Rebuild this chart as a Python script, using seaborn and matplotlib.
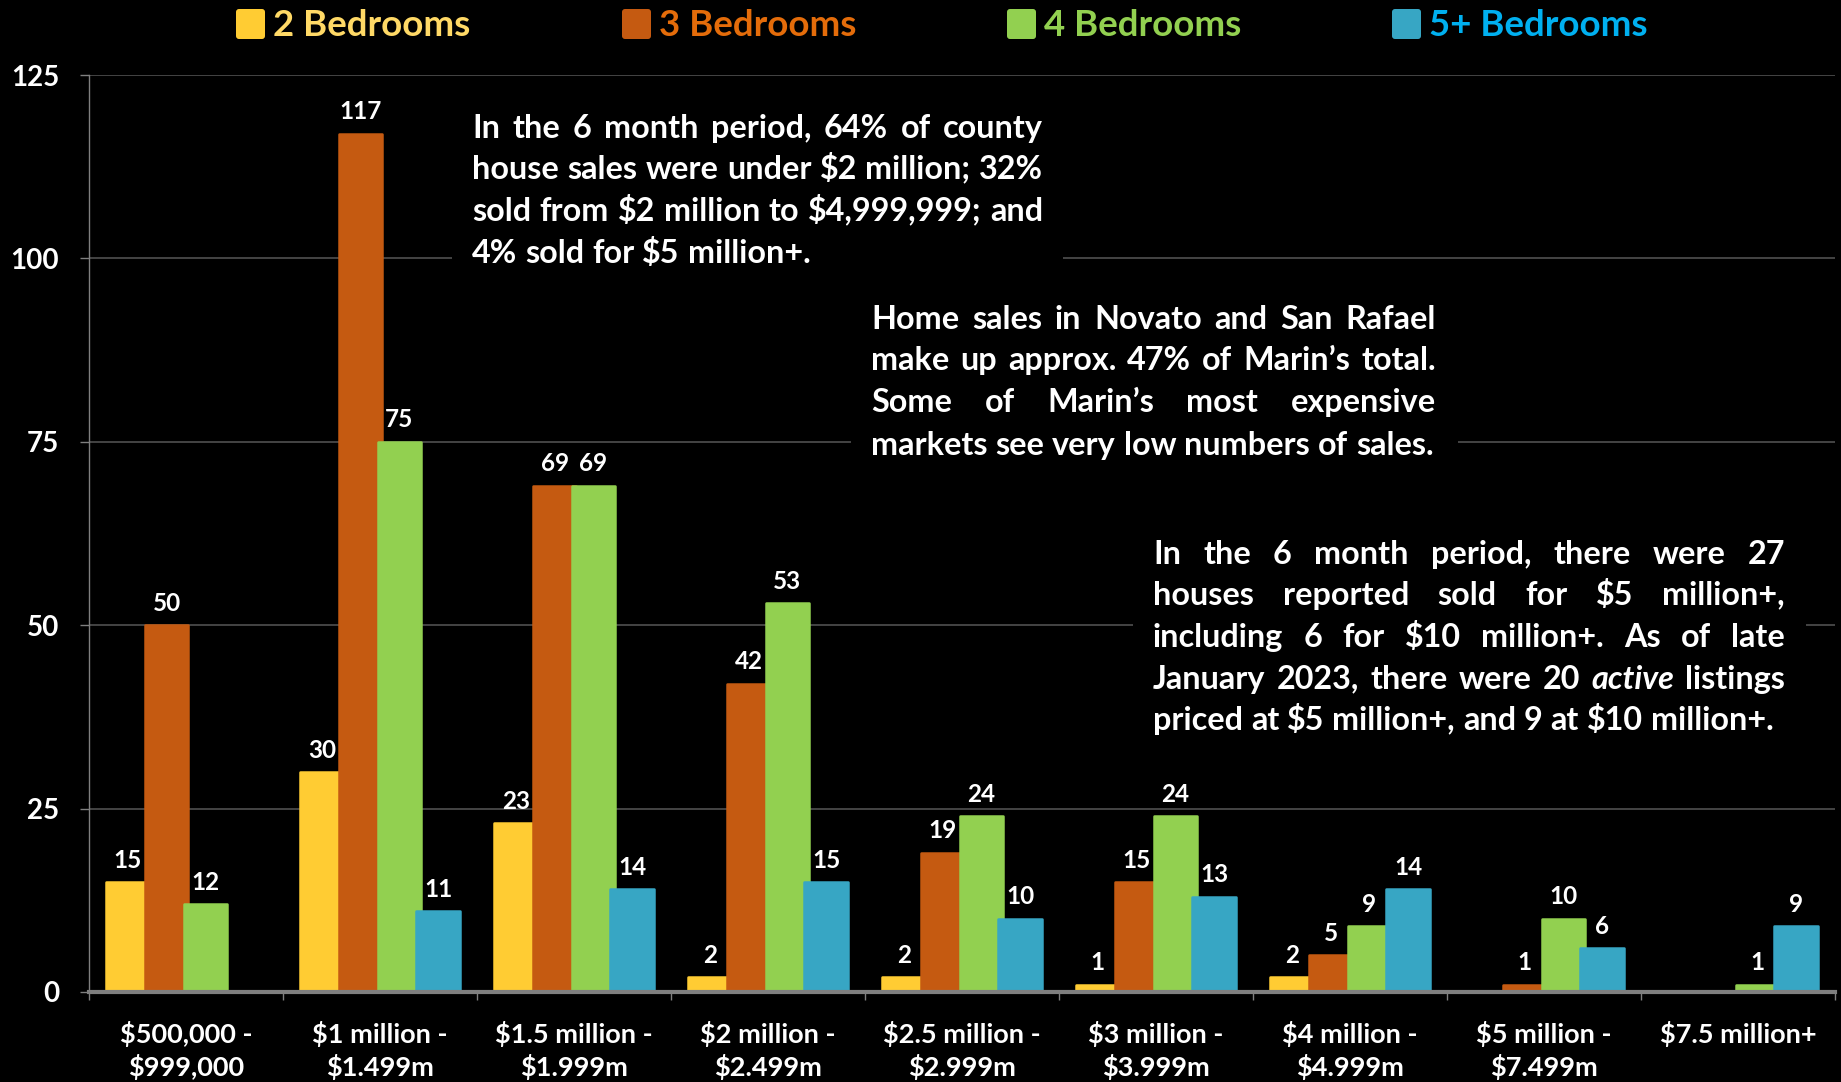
import numpy as np
import pandas as pd
import matplotlib
matplotlib.use("Agg")
import matplotlib.pyplot as plt
import seaborn as sns
from matplotlib.patches import Rectangle, FancyBboxPatch
from matplotlib.transforms import IdentityTransform

# ---------------- data ----------------
categories = ["$500,000 -\n$999,000", "$1 million -\n$1.499m", "$1.5 million -\n$1.999m",
              "$2 million -\n$2.499m", "$2.5 million -\n$2.999m", "$3 million -\n$3.999m",
              "$4 million -\n$4.999m", "$5 million -\n$7.499m", "$7.5 million+"]
series = ["2 Bedrooms", "3 Bedrooms", "4 Bedrooms", "5+ Bedrooms"]
beds2 = [15, 30, 23, 2, 2, 1, 2, np.nan, np.nan]
beds3 = [50, 117, 69, 42, 19, 15, 5, 1, np.nan]
beds4 = [12, 75, 69, 53, 24, 24, 9, 10, 1]
beds5 = [np.nan, 11, 14, 15, 10, 13, 14, 6, 9]
y_ticks = [0, 25, 50, 75, 100, 125]

bar_colors = ["#FFCC33", "#C55A11", "#92D050", "#37A6C4"]
legend_text_colors = ["#FFD966", "#E46C0A", "#92D050", "#00B0F0"]

note1 = ["In the 6 month period, 64% of county",
         "house sales were under $2 million; 32%",
         "sold from $2 million to $4,999,999; and",
         "4% sold for $5 million+."]
note2 = ["Home sales in Novato and San Rafael",
         "make up approx. 47% of Marin\u2019s total.",
         "Some of Marin\u2019s most expensive",
         "markets see very low numbers of sales."]
note3 = ["In the 6 month period, there were 27",
         "houses reported sold for $5 million+,",
         "including 6 for $10 million+. As of late",
         "January 2023, there were 20 _active_ listings",
         "priced at $5 million+, and 9 at $10 million+."]

# ---------------- style ----------------
FONT = "Lato"
plt.rcParams["text.parse_math"] = False
plt.rcParams["font.family"] = [FONT, "DejaVu Sans"]
plt.rcParams["font.weight"] = "bold"

FW, FH = 1841, 1082
fig = plt.figure(figsize=(FW / 100, FH / 100), dpi=100, facecolor="black")
ax_left, ax_right, ax_top, ax_bottom = 89, 1835, 75, 992
ax = fig.add_axes([ax_left / FW, 1 - ax_bottom / FH, (ax_right - ax_left) / FW, (ax_bottom - ax_top) / FH])
ax.set_facecolor("black")

df = pd.DataFrame({
    "category": categories * 4,
    "bedrooms": np.repeat(series, len(categories)),
    "count": beds2 + beds3 + beds4 + beds5,
})

sns.barplot(data=df, x="category", y="count", hue="bedrooms", order=categories,
            hue_order=series, palette=dict(zip(series, bar_colors)), width=0.8,
            saturation=1, errorbar=None, legend=False, ax=ax)

# widen bars so neighbouring bars overlap slightly (as in the original);
# a same-colour edge with round joins softens the corners
EDGE_PX = 2.5
for cont in ax.containers:
    for p in cont:
        w = p.get_width()
        nw = w * (46.0 - EDGE_PX) / 38.8
        p.set_x(p.get_x() - (nw - w) / 2)
        p.set_width(nw)
        p.set_edgecolor(p.get_facecolor())
        p.set_linewidth(EDGE_PX * 72 / 100)
        p.set_joinstyle("round")
    ax.bar_label(cont, labels=[f"{v:.0f}" for v in cont.datavalues], padding=7.5,
                 color="white", fontsize=17.5, fontweight="bold")

ax.set_xlim(-0.5, len(categories) - 0.5)
ax.set_ylim(0, 125)
ax.set_yticks(y_ticks)
ax.set_xlabel("")
ax.set_ylabel("")
ax.set_axisbelow(True)
ax.yaxis.grid(True, color="#4a4a4a", linewidth=1.3)
ax.xaxis.grid(False)
for s in ["top", "right"]:
    ax.spines[s].set_visible(False)
ax.spines["left"].set_color("#7f7f7f")
ax.spines["left"].set_linewidth(1.0)
ax.spines["bottom"].set_color("#7f7f7f")
ax.spines["bottom"].set_linewidth(3.0)
ax.spines["bottom"].set_zorder(5)

ax.tick_params(axis="y", length=6.5, width=1, color="#7f7f7f", pad=15,
               labelsize=20, labelcolor="white")
ax.set_xticks(np.arange(-0.5, len(categories), 1.0), minor=True)
ax.tick_params(axis="x", which="major", length=0, pad=21, labelsize=19.5, labelcolor="white")
ax.tick_params(axis="x", which="minor", length=6, width=1, color="#7f7f7f")
for lbl in ax.get_xticklabels():
    lbl.set_linespacing(1.3)

renderer = fig.canvas.get_renderer()


def text_width(s, fs, style="normal"):
    t = fig.text(0, 0, s, fontsize=fs, fontweight="bold", style=style)
    w = t.get_window_extent(renderer=renderer).width
    t.remove()
    return w


# ---------------- legend ----------------
leg_x = [236, 622, 1007, 1392]
leg_fs = 25 * 197.0 / text_width("2 Bedrooms", 25)
for name, x, bc, tc in zip(series, leg_x, bar_colors, legend_text_colors):
    patch = FancyBboxPatch((x + 3, FH - 39 + 3), 23, 24, boxstyle="round,pad=3",
                           facecolor=bc, edgecolor="none", transform=IdentityTransform())
    fig.add_artist(patch)
    fig.text((x + 37) / FW, 1 - 25 / FH, name, color=tc, fontsize=leg_fs,
             fontweight="bold", ha="left", va="center")

# ---------------- justified notes ----------------
boxes = [
    dict(lines=note1, left=472, right=1043, ys=[126, 167, 209, 251], rect=(452, 95, 1063, 280)),
    dict(lines=note2, left=871, right=1436, ys=[317, 358, 400, 443], rect=(851, 290, 1458, 465)),
    dict(lines=note3, left=1153, right=1785, ys=[552, 593, 635, 677, 718], rect=(1133, 525, 1806, 745)),
]


def tokens(line):
    out = []
    for wd in line.split(" "):
        if wd.startswith("_") and wd.endswith("_"):
            out.append((wd.strip("_"), "italic"))
        else:
            out.append((wd, "normal"))
    return out


base = 24.0
space_base = text_width("n n", base) - text_width("nn", base)
ratio = 0
for b in boxes:
    W = b["right"] - b["left"]
    for line in b["lines"]:
        toks = tokens(line)
        nat = sum(text_width(t, base, st) for t, st in toks) + space_base * (len(toks) - 1)
        ratio = max(ratio, nat / W)
note_fs = min(24.5, base / ratio * 0.995)
space_w = text_width("n n", note_fs) - text_width("nn", note_fs)
px = note_fs * 100 / 72

for b in boxes:
    x0, y0, x1, y1 = b["rect"]
    fig.add_artist(Rectangle((x0 / FW, 1 - y1 / FH), (x1 - x0) / FW, (y1 - y0) / FH,
                             facecolor="black", edgecolor="none", transform=fig.transFigure, zorder=2))
    W = b["right"] - b["left"]
    n = len(b["lines"])
    for i, (line, yc) in enumerate(zip(b["lines"], b["ys"])):
        toks = tokens(line)
        widths = [text_width(t, note_fs, st) for t, st in toks]
        if i < n - 1 and len(toks) > 1:
            gap = (W - sum(widths)) / (len(toks) - 1)
        else:
            gap = space_w
        x = b["left"]
        baseline = yc + 0.36 * px
        for (t, st), w in zip(toks, widths):
            fig.text(x / FW, 1 - baseline / FH, t, fontsize=note_fs, fontweight="bold",
                     style=st, color="white", ha="left", va="baseline", zorder=3)
            x += w + gap

fig.savefig("out.png", dpi=100, facecolor="black")
